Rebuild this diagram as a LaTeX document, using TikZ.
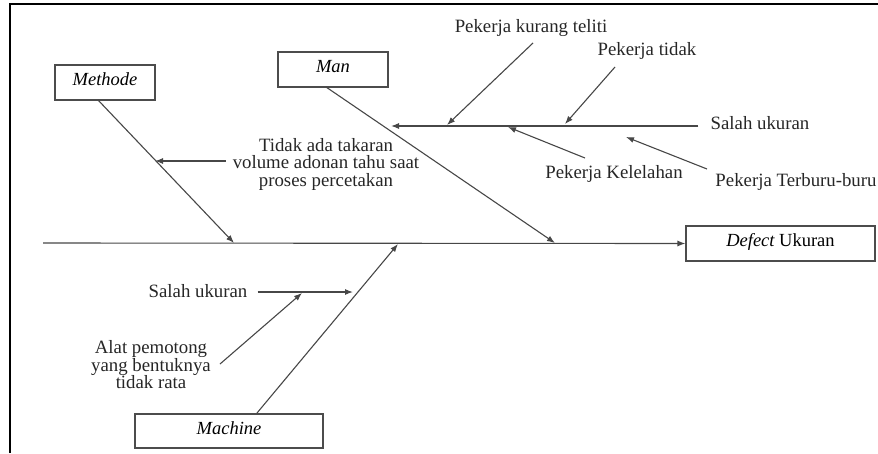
\documentclass[tikz,border=0pt]{standalone}
\usepackage{fontspec}
\setmainfont{Liberation Serif}
\usetikzlibrary{arrows.meta}
\begin{document}
\begin{tikzpicture}[x=1pt,y=-1pt,
  box/.style={draw=black!70, line width=1.1pt, inner sep=0pt, text height=12pt, text depth=6pt,
    font=\fontsize{18.5}{17.5}\selectfont\itshape},
  lbl/.style={font=\fontsize{18.8}{17.5}\selectfont, inner sep=0pt, align=center, text=black!85},
  bone/.style={draw=black!72, line width=1.1pt},
  arr/.style={bone, -{Latex[length=8pt,width=6pt]}}]
\useasboundingbox (0,0) rectangle (878,453);
\draw[line width=2.5pt] (10,453) -- (10,4) -- (878,4);

% boxes
\node[box, minimum width=100pt, minimum height=35pt] (methode) at (105,82.5) {Methode};
\node[box, minimum width=110pt, minimum height=35pt] (man) at (333,69.5) {Man};
\node[box, minimum width=188pt, minimum height=34pt] (machine) at (229,431) {Machine};
\node[box, minimum width=189pt, minimum height=35pt] (defect) at (780.5,243.5) {Defect \upshape Ukuran};

% coordinates on the bones
\coordinate (spineL) at (43,243);
\coordinate (methodeTop) at (98,100);
\coordinate (methodeHit) at (234,243);
\coordinate (manTop) at (326,87);
\coordinate (manHit) at (555,243);
\coordinate (machineTop) at (257,413);
\coordinate (machineHit) at (398,244);
\coordinate (manBoneHit) at (391,126);

% labels
\node[lbl] (kurang) at (531,28) {Pekerja kurang teliti};
\node[lbl] (tidak) at (647,51) {Pekerja tidak};
\node[lbl] (salah1) at (760,123) {Salah ukuran};
\node[lbl] (lelah) at (614,174) {Pekerja Kelelahan};
\node[lbl] (buru) at (796,182) {Pekerja Terburu-buru};
\node[lbl] (takaran) at (326,164) {Tidak ada takaran\\volume adonan tahu saat\\proses percetakan};
\node[lbl] (salah2) at (198,291) {Salah ukuran};
\node[lbl] (alat) at (151,365) {Alat pemotong\\yang bentuknya\\tidak rata};

% main bones
\draw[arr] (spineL) -- (defect.west);
\draw[arr] (methodeTop) -- (methodeHit);
\draw[arr] (manTop) -- (manHit);
\draw[arr] (machineTop) -- (machineHit);

% man sub-bone
\draw[arr] ([xshift=-12pt]salah1.west |- 0,126) -- (manBoneHit);
\coordinate (kurangHit) at (447,125);
\coordinate (tidakHit) at (565,124);
\coordinate (lelahHit) at (508,127);
\coordinate (buruHit) at (626,137);
\draw[arr] (533,43) -- (kurangHit);
\draw[arr] (615,67) -- (tidakHit);
\draw[arr] (585,158) -- (lelahHit);
\draw[arr] (707,169) -- (buruHit);

% methode cause
\coordinate (takaranHit) at (155,161);
\draw[arr] ([xshift=-7pt]takaran.west |- 0,161) -- (takaranHit);

% machine sub-bone
\coordinate (salah2Hit) at (353,292);
\coordinate (alatHit) at (302,293);
\draw[arr] ([xshift=10pt]salah2.east |- 0,292) -- (salah2Hit);
\draw[arr] (220,364) -- (alatHit);
\end{tikzpicture}
\end{document}
